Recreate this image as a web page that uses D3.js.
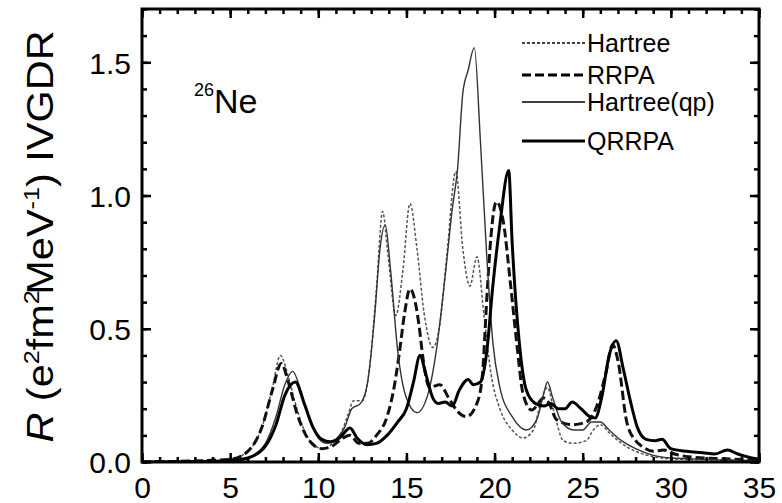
<!DOCTYPE html>
<html>
<head>
<meta charset="utf-8">
<script src="https://cdn.jsdelivr.net/npm/d3@7"></script>
<style>
  html, body { margin: 0; padding: 0; background: #fff; }
  svg { display: block; font-family: "Liberation Sans", Arial, Helvetica, sans-serif; }
</style>
</head>
<body>
<svg id="chart" width="782" height="503"></svg>
<script>
// IVGDR strength distributions of 26Ne: [energy (MeV), R (e^2 fm^2 MeV^-1)]
const hartree = [
  [0,0],[4,0.003],[5,0.01],[6,0.04],[6.8,0.13],[7.4,0.28],[7.85,0.40],[8.3,0.32],[8.7,0.22],
  [9.2,0.12],[9.8,0.06],[10.3,0.05],[10.8,0.07],[11.3,0.11],[11.7,0.18],[12.0,0.23],[12.5,0.23],
  [12.9,0.35],[13.3,0.65],[13.65,0.94],[13.95,0.78],[14.4,0.55],[14.8,0.72],[15.2,0.97],[15.6,0.80],
  [16.0,0.56],[16.5,0.43],[16.9,0.52],[17.3,0.78],[17.8,1.09],[18.2,0.80],[18.6,0.66],[19.0,0.77],
  [19.4,0.55],[19.8,0.33],[20.3,0.20],[21.0,0.12],[21.6,0.09],[22.2,0.12],[22.6,0.22],[23.0,0.28],
  [23.4,0.18],[23.9,0.08],[24.5,0.07],[25.2,0.08],[25.6,0.12],[26.0,0.14],[26.5,0.11],[27.2,0.07],
  [28,0.04],[29,0.02],[30,0.012],[32,0.008],[35,0.005]
];
const rrpa = [
  [0,0],[5,0.01],[6,0.04],[6.8,0.13],[7.4,0.27],[7.9,0.37],[8.3,0.30],[8.8,0.18],[9.3,0.10],
  [9.8,0.06],[10.2,0.05],[10.8,0.06],[11.4,0.09],[11.8,0.10],[12.3,0.07],[12.8,0.07],[13.3,0.10],
  [13.9,0.17],[14.3,0.28],[14.6,0.41],[14.9,0.56],[15.2,0.65],[15.5,0.60],[15.7,0.52],[15.95,0.385],
  [16.3,0.28],[16.9,0.29],[17.4,0.24],[17.9,0.19],[18.4,0.17],[19.0,0.22],[19.3,0.32],[19.6,0.66],
  [19.8,0.85],[20.1,0.977],[20.5,0.90],[20.9,0.67],[21.3,0.42],[21.6,0.26],[22.1,0.195],[22.8,0.24],
  [23.1,0.22],[23.5,0.16],[24.4,0.14],[25.2,0.15],[25.8,0.21],[26.3,0.33],[26.7,0.44],[27.0,0.38],
  [27.5,0.15],[28.0,0.08],[28.4,0.057],[29,0.04],[29.6,0.045],[30.2,0.03],[31,0.02],[33,0.012],[35,0.008]
];
const hartreeQp = [
  [0,0],[5,0.005],[6,0.015],[7,0.07],[7.6,0.17],[8.1,0.29],[8.55,0.34],[9.0,0.27],[9.5,0.16],
  [10.0,0.09],[10.5,0.07],[11.0,0.085],[11.5,0.13],[11.9,0.20],[12.4,0.22],[12.8,0.30],[13.2,0.55],
  [13.5,0.80],[13.8,0.89],[14.1,0.72],[14.5,0.42],[15.0,0.24],[15.6,0.185],[16.2,0.25],[16.7,0.42],
  [17.2,0.70],[17.6,0.95],[17.9,1.10],[18.2,1.385],[18.5,1.47],[18.85,1.555],[19.2,1.20],[19.55,0.78],
  [19.9,0.45],[20.3,0.28],[21.0,0.17],[21.8,0.12],[22.4,0.16],[22.8,0.26],[23.0,0.30],[23.3,0.24],
  [23.8,0.15],[24.5,0.12],[25.0,0.12],[25.5,0.15],[26.0,0.15],[26.5,0.12],[27.2,0.08],[28,0.05],
  [29,0.025],[30,0.015],[32,0.01],[35,0.006]
];
const qrrpa = [
  [0,0],[5,0.005],[6,0.015],[7,0.06],[7.6,0.14],[8.1,0.25],[8.7,0.30],[9.2,0.22],[9.7,0.13],
  [10.2,0.085],[10.7,0.076],[11.2,0.09],[11.8,0.128],[12.2,0.09],[12.75,0.065],[13.3,0.07],[13.9,0.10],
  [14.5,0.15],[15.0,0.20],[15.4,0.30],[15.77,0.40],[16.1,0.33],[16.5,0.24],[16.8,0.22],[17.2,0.225],
  [17.6,0.21],[18.0,0.27],[18.5,0.31],[18.8,0.29],[19.2,0.30],[19.55,0.41],[19.9,0.66],[20.3,0.89],
  [20.8,1.094],[21.0,0.82],[21.4,0.45],[21.8,0.27],[22.3,0.22],[22.8,0.21],[23.2,0.22],[23.6,0.20],
  [24.0,0.20],[24.4,0.225],[24.9,0.20],[25.4,0.17],[25.7,0.165],[26.1,0.25],[26.5,0.40],[26.9,0.455],
  [27.3,0.35],[27.7,0.23],[28.1,0.13],[28.6,0.085],[29.1,0.08],[29.5,0.085],[30,0.05],[30.9,0.04],
  [31.8,0.035],[32.5,0.03],[33.2,0.045],[33.8,0.03],[34.3,0.02],[35,0.01]
];

const seriesNames = ["Hartree", "RRPA", "Hartree(qp)", "QRRPA"];
const xTickValues = [0, 5, 10, 15, 20, 25, 30, 35];
const yTickValues = [0, 0.5, 1.0, 1.5];
const yTickLabels = ["0.0", "0.5", "1.0", "1.5"];

const styles = [
  { data: hartree,   color: "#555", width: 1.5, dash: "3,2" },
  { data: rrpa,      color: "#111", width: 3,   dash: "9,4" },
  { data: hartreeQp, color: "#333", width: 1.4, dash: null },
  { data: qrrpa,     color: "#000", width: 3,   dash: null }
];

const svg = d3.select("#chart");
const plotLeft = 142, plotRight = 759, plotTop = 9, plotBottom = 462;

const x = d3.scaleLinear().domain([0, 35]).range([plotLeft, plotRight]);
const y = d3.scaleLinear().domain([0, 1.7]).range([plotBottom, plotTop]);

// clip region for the curves
svg.append("defs").append("clipPath").attr("id", "plotClip")
  .append("rect").attr("x", plotLeft).attr("y", plotTop)
  .attr("width", plotRight - plotLeft).attr("height", plotBottom - plotTop);

const line = d3.line()
  .x(d => x(d[0])).y(d => y(d[1]))
  .curve(d3.curveMonotoneX);

const curves = svg.append("g").attr("clip-path", "url(#plotClip)");
styles.forEach(s => {
  curves.append("path")
    .attr("d", line(s.data))
    .attr("fill", "none")
    .attr("stroke", s.color)
    .attr("stroke-width", s.width)
    .attr("stroke-dasharray", s.dash)
    .attr("stroke-linejoin", "round");
});

// axes with inward ticks on all four sides
function styleAxis(g) {
  g.select(".domain").remove();
  g.selectAll(".tick line").attr("stroke", "#000").attr("stroke-width", 2.5);
}
const xMinor = d3.range(0, 36, 1);
const yMinor = d3.range(0, 1.71, 0.1).map(v => +v.toFixed(1));

svg.append("g").attr("transform", `translate(0,${plotBottom})`)
  .call(d3.axisBottom(x).tickValues(xMinor).tickSize(-5).tickFormat(""))
  .call(styleAxis);
svg.append("g").attr("transform", `translate(0,${plotBottom})`)
  .call(d3.axisBottom(x).tickValues(xTickValues).tickSize(-9)
    .tickFormat(d3.format("d")))
  .call(styleAxis)
  .call(g => g.selectAll("text").attr("font-size", 30).attr("fill", "#000")
    .attr("y", 36).attr("dy", null));

svg.append("g").attr("transform", `translate(0,${plotTop})`)
  .call(d3.axisTop(x).tickValues(xMinor).tickSize(-5).tickFormat(""))
  .call(styleAxis);
svg.append("g").attr("transform", `translate(0,${plotTop})`)
  .call(d3.axisTop(x).tickValues(xTickValues).tickSize(-9).tickFormat(""))
  .call(styleAxis);

svg.append("g").attr("transform", `translate(${plotLeft},0)`)
  .call(d3.axisLeft(y).tickValues(yMinor).tickSize(-5).tickFormat(""))
  .call(styleAxis);
svg.append("g").attr("transform", `translate(${plotLeft},0)`)
  .call(d3.axisLeft(y).tickValues(yTickValues).tickSize(-9)
    .tickFormat((d, i) => yTickLabels[i]))
  .call(styleAxis)
  .call(g => g.selectAll("text").attr("font-size", 30).attr("fill", "#000")
    .attr("x", -11).attr("dy", "0.36em"));

svg.append("g").attr("transform", `translate(${plotRight},0)`)
  .call(d3.axisRight(y).tickValues(yMinor).tickSize(-5).tickFormat(""))
  .call(styleAxis);
svg.append("g").attr("transform", `translate(${plotRight},0)`)
  .call(d3.axisRight(y).tickValues(yTickValues).tickSize(-9).tickFormat(""))
  .call(styleAxis);

// frame
svg.append("rect")
  .attr("x", plotLeft).attr("y", plotTop)
  .attr("width", plotRight - plotLeft).attr("height", plotBottom - plotTop)
  .attr("fill", "none").attr("stroke", "#000").attr("stroke-width", 3);

// y-axis title
const yTitle = svg.append("text")
  .attr("font-size", 36).attr("fill", "#000").attr("text-anchor", "middle");
yTitle.append("tspan").attr("font-style", "italic").text("R");
yTitle.append("tspan").text(" (e");
yTitle.append("tspan").attr("font-size", 22).attr("dy", -14).text("2");
yTitle.append("tspan").attr("dy", 14).text("fm");
yTitle.append("tspan").attr("font-size", 22).attr("dy", -14).text("2");
yTitle.append("tspan").attr("dy", 14).attr("dx", -4).text("MeV");
yTitle.append("tspan").attr("font-size", 22).attr("dy", -14).text("-1");
yTitle.append("tspan").attr("dy", 14).text(") IVGDR");
const titleLen = yTitle.node().getComputedTextLength();
const stretch = 417 / titleLen;
yTitle.attr("transform", `translate(53,236.5) rotate(-90) scale(${stretch},1)`);

// nucleus label
const nucleus = svg.append("text").attr("x", 194).attr("y", 113)
  .attr("font-size", 34).attr("fill", "#000");
nucleus.append("tspan").attr("font-size", 18).attr("dy", -17).text("26");
nucleus.append("tspan").attr("dy", 17).text("Ne");

// legend
const legendRows = [43, 75, 102, 141];
const legend = svg.append("g");
styles.forEach((s, i) => {
  legend.append("line")
    .attr("x1", 522).attr("x2", 585)
    .attr("y1", legendRows[i]).attr("y2", legendRows[i])
    .attr("stroke", "#000")
    .attr("stroke-width", s.width)
    .attr("stroke-dasharray", s.dash);
  legend.append("text")
    .attr("x", 587).attr("y", legendRows[i])
    .attr("dy", "0.36em")
    .attr("font-size", 25).attr("fill", "#000")
    .text(seriesNames[i]);
});
</script>
</body>
</html>
